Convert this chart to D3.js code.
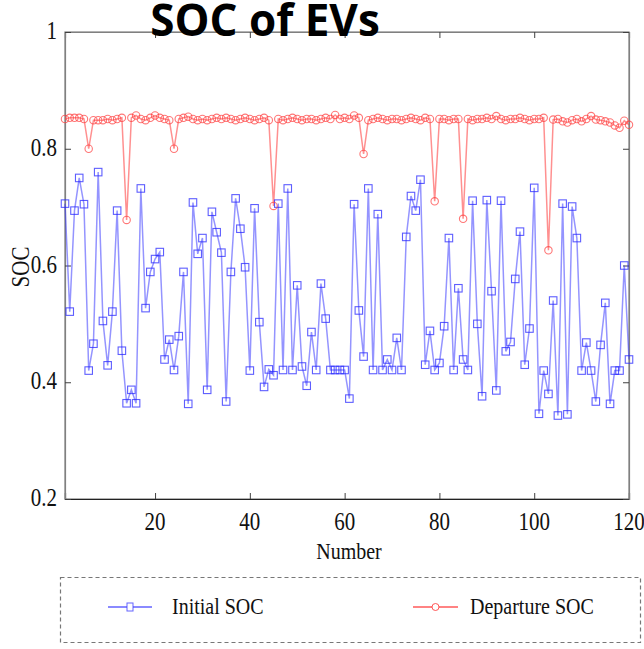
<!DOCTYPE html>
<html><head><meta charset="utf-8">
<script src="https://cdn.jsdelivr.net/npm/d3@7"></script>
<style>
body{margin:0;background:#fff;}
svg{display:block;}
</style></head>
<body>
<svg id="chart" width="644" height="649"></svg>
<script>
const numbers = d3.range(1, 121);
const initialSOC = [
0.706,0.521,0.694,0.750,0.705,0.420,0.466,0.760,0.505,0.429,
0.521,0.694,0.454,0.364,0.387,0.364,0.732,0.527,0.589,0.611,
0.623,0.439,0.473,0.421,0.479,0.589,0.363,0.708,0.620,0.647,
0.387,0.692,0.657,0.622,0.367,0.589,0.715,0.663,0.597,0.420,
0.698,0.503,0.392,0.422,0.412,0.706,0.421,0.732,0.421,0.566,
0.427,0.394,0.486,0.421,0.569,0.509,0.421,0.421,0.421,0.421,
0.372,0.705,0.523,0.444,0.732,0.421,0.688,0.421,0.439,0.421,
0.476,0.421,0.649,0.719,0.694,0.747,0.430,0.488,0.421,0.433,
0.496,0.647,0.421,0.561,0.439,0.421,0.711,0.500,0.376,0.712,
0.556,0.386,0.711,0.453,0.469,0.577,0.658,0.430,0.492,0.733,
0.346,0.420,0.380,0.540,0.343,0.706,0.345,0.701,0.647,0.420,
0.468,0.420,0.367,0.464,0.536,0.363,0.420,0.420,0.600,0.439];
const departureSOC = [
0.851,0.853,0.853,0.853,0.851,0.800,0.849,0.849,0.849,0.851,
0.849,0.851,0.853,0.678,0.853,0.857,0.851,0.849,0.853,0.857,
0.853,0.851,0.849,0.800,0.851,0.853,0.855,0.851,0.849,0.851,
0.849,0.851,0.853,0.851,0.853,0.851,0.849,0.851,0.853,0.851,
0.849,0.851,0.853,0.849,0.702,0.851,0.849,0.851,0.853,0.851,
0.849,0.851,0.851,0.849,0.851,0.853,0.851,0.858,0.851,0.853,
0.851,0.857,0.853,0.791,0.849,0.851,0.853,0.851,0.849,0.851,
0.851,0.849,0.851,0.853,0.851,0.849,0.853,0.851,0.710,0.851,
0.851,0.849,0.851,0.851,0.680,0.851,0.849,0.851,0.851,0.853,
0.851,0.856,0.851,0.849,0.851,0.851,0.853,0.851,0.849,0.851,
0.851,0.853,0.626,0.850,0.851,0.847,0.845,0.849,0.851,0.847,
0.851,0.856,0.850,0.849,0.847,0.845,0.840,0.836,0.848,0.841];
const xTicks = [20,40,60,80,100,120];
const yTicks = [0.2,0.4,0.6,0.8,1];
const seriesNames = ["Initial SOC","Departure SOC"];

const svg = d3.select("#chart");
const L = 65, R = 629, T = 32, B = 499;
const x = d3.scaleLinear().domain([1,120]).range([L,R]);
const y = d3.scaleLinear().domain([0.2,1]).range([B,T]);
const serif = "'Liberation Serif','Times New Roman',serif";
const stretch = 1.2;

function stretchedText(tx, ty, str, size, anchor, rotate){
  return svg.append("text")
    .attr("transform",`translate(${tx},${ty})${rotate?` rotate(${rotate})`:""} scale(1,${stretch})`)
    .attr("text-anchor",anchor||"start").attr("font-family",serif)
    .attr("font-size",size).attr("fill","#111").text(str);
}

// frame
svg.append("rect").attr("x",L).attr("y",T).attr("width",R-L).attr("height",B-T)
  .attr("fill","none").attr("stroke","#808080").attr("stroke-width",1.2);

// axes
const xAxis = svg.append("g").attr("transform",`translate(0,${B})`)
  .call(d3.axisBottom(x).tickValues(xTicks).tickSize(-6).tickPadding(0).tickFormat(""));
const xTop = svg.append("g").attr("transform",`translate(0,${T})`)
  .call(d3.axisTop(x).tickValues(xTicks).tickSize(-6).tickFormat(""));
const yAxis = svg.append("g").attr("transform",`translate(${L},0)`)
  .call(d3.axisLeft(y).tickValues(yTicks).tickSize(-6).tickFormat(""));
const yRight = svg.append("g").attr("transform",`translate(${R},0)`)
  .call(d3.axisRight(y).tickValues(yTicks).tickSize(-6).tickFormat(""));
[xAxis,xTop,yAxis,yRight].forEach(g=>{
  g.select(".domain").attr("stroke","#808080").attr("stroke-width",1.2);
  g.selectAll(".tick line").attr("stroke","#404040");
});
xAxis.select(".domain").attr("stroke","#222");

// tick labels (stretched serif like the reference)
xTicks.forEach(t=>stretchedText(x(t), 530, d3.format("d")(t), 21, "middle"));
yTicks.forEach(t=>stretchedText(L-8, y(t)+7, t===1?"1":d3.format(".1f")(t), 21, "end"));

// lines
const lineGen = vals => d3.line().x((d,i)=>x(numbers[i])).y(d=>y(d))(vals);
svg.append("path").attr("d",lineGen(initialSOC)).attr("fill","none")
  .attr("stroke","rgba(60,60,255,0.55)").attr("stroke-width",1.5);
svg.append("path").attr("d",lineGen(departureSOC)).attr("fill","none")
  .attr("stroke","rgba(255,70,70,0.6)").attr("stroke-width",1.5);

// markers
const ms = 7.5;
svg.append("g").selectAll("rect").data(initialSOC).join("rect")
  .attr("x",(d,i)=>x(numbers[i])-ms/2).attr("y",d=>y(d)-ms/2)
  .attr("width",ms).attr("height",ms).attr("fill","none")
  .attr("stroke","rgba(40,40,255,0.75)").attr("stroke-width",1.1);
svg.append("g").selectAll("circle").data(departureSOC).join("circle")
  .attr("cx",(d,i)=>x(numbers[i])).attr("cy",d=>y(d)).attr("r",3.7)
  .attr("fill","none").attr("stroke","rgba(255,60,60,0.7)").attr("stroke-width",1.1);

// title
svg.append("text").attr("x",265).attr("y",36).attr("text-anchor","middle")
  .attr("font-family","'Open Sans','Noto Sans',sans-serif").attr("font-weight","bold")
  .attr("font-size",44).attr("fill","#000").text("SOC of EVs");

// axis labels
stretchedText(349, 559, "Number", 20, "middle");
stretchedText(29, 267, "SOC", 21, "middle", -90);

// legend
svg.append("rect").attr("x",60.5).attr("y",577.5).attr("width",580).attr("height",65)
  .attr("fill","#fff").attr("stroke","#777").attr("stroke-width",1.2).attr("stroke-dasharray","4,3");
const legY = 607;
const leg = [
  {name:seriesNames[0], x1:108, x2:152, tx:172, color:"rgba(60,60,255,0.8)", marker:"square"},
  {name:seriesNames[1], x1:413, x2:458, tx:470, color:"rgba(255,60,60,0.85)", marker:"circle"}
];
leg.forEach(l=>{
  svg.append("line").attr("x1",l.x1).attr("x2",l.x2).attr("y1",legY).attr("y2",legY)
    .attr("stroke",l.color).attr("stroke-width",1.3);
  const cx=(l.x1+l.x2)/2;
  if(l.marker==="square"){
    svg.append("rect").attr("x",cx-3).attr("y",legY-4).attr("width",6).attr("height",8)
      .attr("fill","#fff").attr("stroke",l.color).attr("stroke-width",1);
  } else {
    svg.append("circle").attr("cx",cx).attr("cy",legY).attr("r",3.5)
      .attr("fill","#fff").attr("stroke",l.color).attr("stroke-width",1);
  }
  stretchedText(l.tx, legY+7, l.name, 20, "start");
});
</script>
</body></html>
